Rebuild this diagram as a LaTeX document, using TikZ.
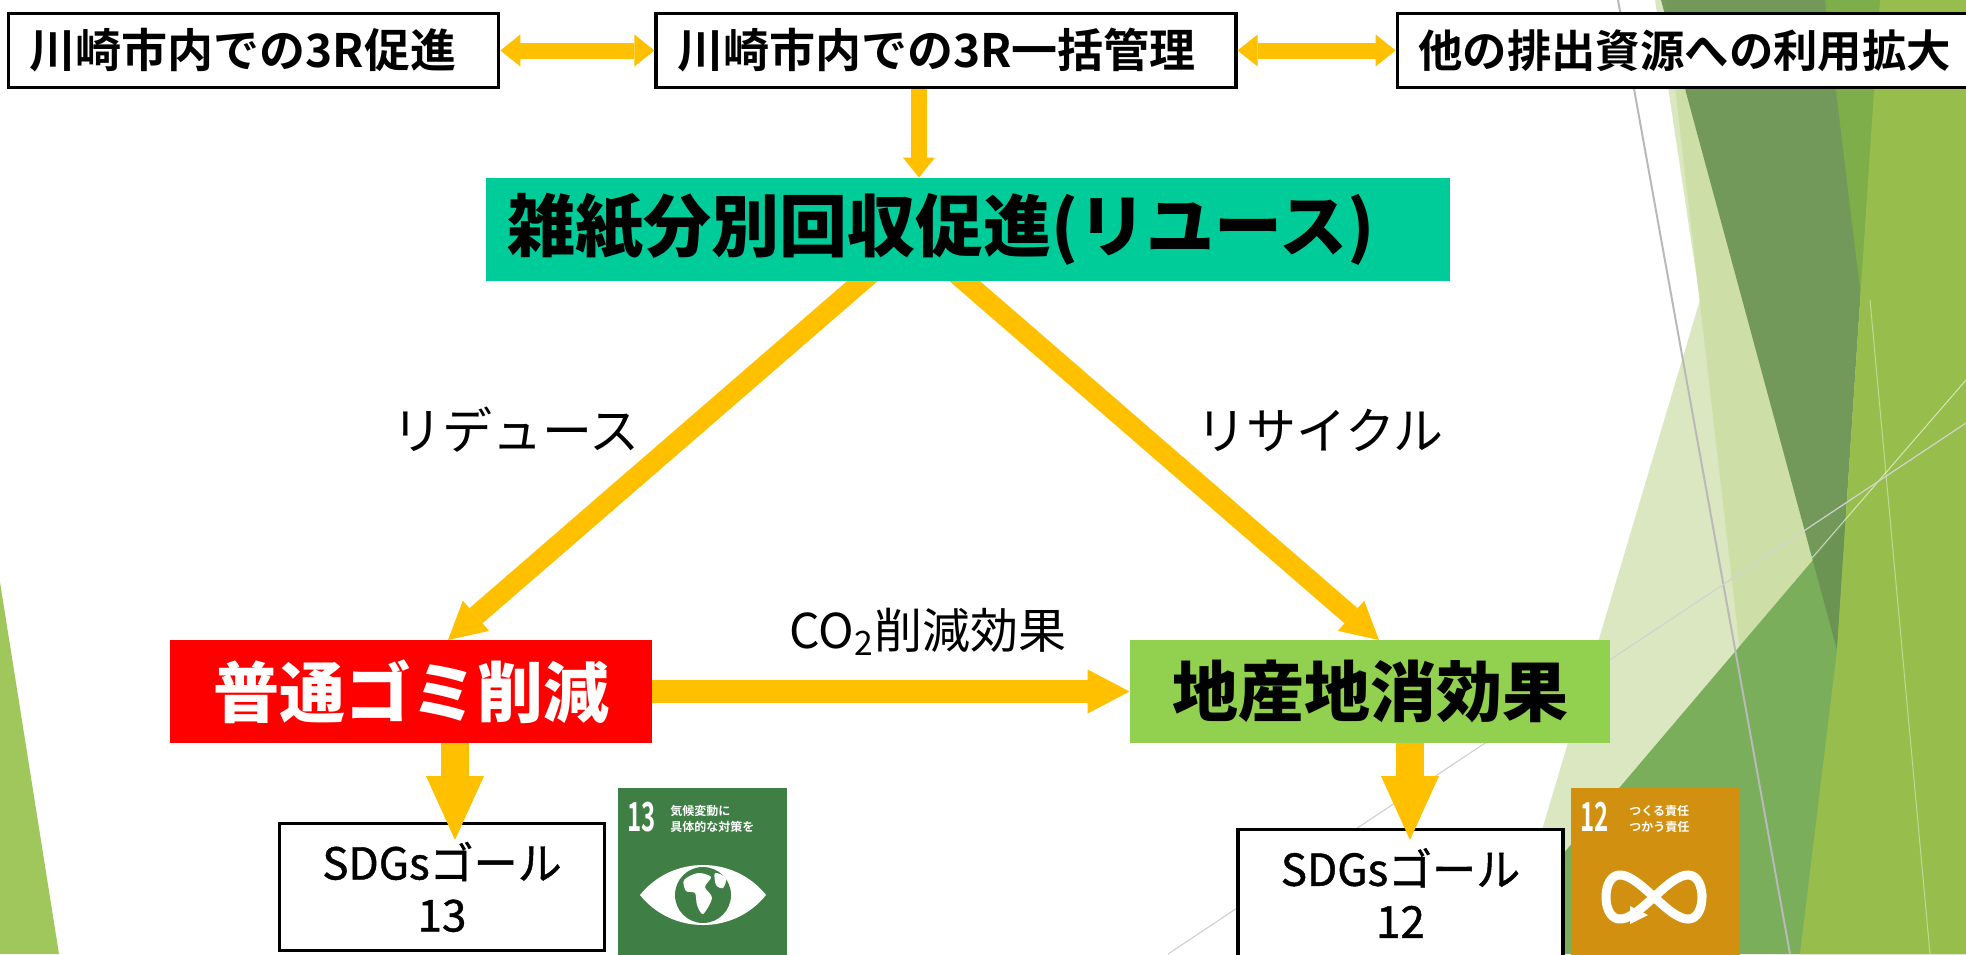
\documentclass[tikz,border=0pt]{standalone}
\usepackage{fontspec}
\usetikzlibrary{arrows.meta,positioning}

\newfontfamily\jp{Noto Sans CJK JP}
\newfontfamily\jpmed{Noto Sans CJK JP}[FakeBold=1]
\IfFontExistsTF{Noto Sans CJK JP Bold}
  {\newfontfamily\jpbold{Noto Sans CJK JP Bold}}
  {\newfontfamily\jpbold{Noto Sans CJK JP}[FakeBold=2]}
\IfFontExistsTF{Noto Sans CJK JP Black}
  {\newfontfamily\jpheavy{Noto Sans CJK JP Black}}
  {\IfFontExistsTF{Noto Sans CJK JP Bold}
    {\newfontfamily\jpheavy{Noto Sans CJK JP Bold}[FakeBold=2.5]}
    {\newfontfamily\jpheavy{Noto Sans CJK JP}[FakeBold=4]}}

\definecolor{arrowgold}{HTML}{FFC000}
\definecolor{sortteal}{HTML}{00CC99}
\definecolor{cutred}{HTML}{FF0000}
\definecolor{leafgreen}{HTML}{92D050}
\definecolor{sdgclimate}{HTML}{3F7E44}
\definecolor{sdgconsume}{HTML}{D1900F}
% slide background facets
\definecolor{facetleft}{HTML}{A0C75B}
\definecolor{facetpale}{HTML}{DAE7C0}
\definecolor{facetlight}{HTML}{CDDEA6}
\definecolor{facetdark}{HTML}{6A9252}
\definecolor{facettop}{HTML}{7EAE4A}
\definecolor{facetmid}{HTML}{7AAE5A}
\definecolor{facetolive}{HTML}{97BE4C}

\pgfdeclarelayer{back}
\pgfdeclarelayer{under}
\pgfsetlayers{back,under,main}

\begin{document}
\begin{tikzpicture}[
  x=0.5pt, y=-0.5pt,
  topbox/.style={draw, line width=1.6pt, fill=white, align=left, inner xsep=10.5pt, inner ysep=0pt, minimum height=37pt, font=\jpbold\fontsize{23}{26}\selectfont},
  tagbox/.style={minimum height=51.5pt, inner sep=0pt, font=\jpheavy\fontsize{33}{36}\selectfont},
  goalbox/.style={draw, line width=1.6pt, fill=white, align=center, minimum width=162.5pt, minimum height=63.5pt, font=\jpmed\fontsize{22}{26}\selectfont},
  lbl/.style={inner sep=0pt, font=\jp\fontsize{25}{27}\selectfont},
  icon/.style={minimum size=84.5pt, inner sep=0pt},
  icontext/.style={inner sep=0pt, anchor=north west, align=left, text=white},
  link/.style={draw=arrowgold, line width=8pt, -{Triangle[width=16pt,length=10pt,line width=0pt]}},
  duo/.style={draw=arrowgold, line width=8pt, {Triangle[width=16pt,length=10pt,line width=0pt]}-{Triangle[width=16pt,length=10pt,line width=0pt]}},
  diag/.style={draw=arrowgold, line width=10pt, -{Triangle[width=20pt,length=18.5pt,line width=0pt]}},
  flow/.style={draw=arrowgold, line width=11.5pt, -{Triangle[width=22pt,length=21pt,line width=0pt]}},
  drop/.style={draw=arrowgold, line width=14pt, -{Triangle[width=29pt,length=32pt,line width=0pt]}},
]
  \useasboundingbox (0,0) rectangle (1966,954);
  \clip (0,0) rectangle (1966,954);

  % background
  \begin{pgfonlayer}{back}
    \fill[white] (0,0) rectangle (1966,954);
    \fill[facetleft] (0,582) -- (59,954) -- (0,954) -- cycle;
    \fill[facetpale] (1655,0) -- (1700,300) -- (1505,954) -- (1966,954) -- (1966,0) -- cycle;
    \fill[facetlight] (1665,0) -- (1775,954) -- (1966,954) -- (1966,0) -- cycle;
    \fill[facetmid] (1966,380) -- (1478,954) -- (1966,954) -- cycle;
    \fill[facetdark, opacity=.9] (1661,0) -- (1880,0) -- (1837,650) -- cycle;
    \fill[facettop] (1825,0) -- (1905,0) -- (1865,330) -- cycle;
    \fill[facetolive] (1880,0) -- (1966,0) -- (1966,954) -- (1800,954) -- (1837,650) -- cycle;
    \draw[white, opacity=.6, line width=.5pt] (1966,380) -- (1812,558);
    \draw[white, opacity=.4, line width=.5pt] (1870,300) -- (1930,954);
    \draw[gray!55, line width=1pt] (1618,0) -- (1790,954);
    \draw[gray!35, line width=.6pt] (1168,954) -- (1966,423);
  \end{pgfonlayer}

  % top row
  \node[topbox, text width=269pt] (mgmt) at (946,50.5) {川崎市内での3R一括管理};
  \node[topbox, text width=224pt, left=77pt of mgmt] (prom) {川崎市内での3R促進};
  \node[topbox, text width=276pt, right=79pt of mgmt, font=\jpbold\fontsize{22.2}{26}\selectfont] (expand) {他の排出資源への利用拡大};

  % main boxes
  \node[tagbox, fill=sortteal, text width=460pt, inner xsep=11pt, align=left, font=\jpheavy\fontsize{34}{36}\selectfont] (sorting) at (967.5,229.5) {雑紙分別回収促進(リユース)};
  \node[tagbox, fill=cutred, text=white, minimum width=241pt] (reduce) at (411,691.5) {普通ゴミ削減};
  \node[tagbox, fill=leafgreen, minimum width=240pt] (local) at (1370,691.5) {地産地消効果};

  \node[lbl] (lreduce) at (516,430) {リデュース};
  \node[lbl] (lrecycle) at (1320,430) {リサイクル};
  \node[lbl, font=\jp\fontsize{24}{26}\selectfont] (lco) at (928,632) {CO\textsubscript{2}削減効果};

  % goals
  \node[goalbox] (goal13) at (442,887) {SDGsゴール\\13};
  \node[goalbox] (goal12) at (1400.5,893) {SDGsゴール\\12};

  % goal 13 icon
  \node[icon, fill=sdgclimate] (icon13) at (702.5,872.5) {};
  \node[icontext, font=\jpbold\fontsize{20}{20}\selectfont] (num13) at (627,802) {\scalebox{.6}[1]{13}};
  \node[icontext, font=\jpbold\fontsize{6}{8}\selectfont] (cap13) at (670,805) {気候変動に\\具体的な対策を};
  \fill[white] (640,895) .. controls (672,855) and (734,855) .. (766,895) .. controls (734,935) and (672,935) .. (640,895) -- cycle;
  \fill[sdgclimate] (703,895) circle (14pt);
  \fill[white] plot[smooth cycle] coordinates {(684,880) (698,873) (711,877) (705,887) (712,898) (703,914) (697,905) (695,893) (686,891)};
  \fill[white] plot[smooth cycle] coordinates {(715,873) (726,878) (723,888) (716,885)};

  % goal 12 icon
  \node[icon, fill=sdgconsume] (icon12) at (1655.5,872.5) {};
  \node[icontext, font=\jpbold\fontsize{20}{20}\selectfont] (num12) at (1580,802) {\scalebox{.6}[1]{12}};
  \node[icontext, font=\jpbold\fontsize{6}{8}\selectfont] (cap12) at (1629,805) {つくる責任\\つかう責任};
  \draw[white, line width=4.5pt] plot[domain=0:360, samples=90, smooth cycle] ({1654+48*cos(\x)}, {897+22*sin(2*\x)});
  \fill[white] (1630,906) -- (1648,915) -- (1630,924) -- cycle;

  % connectors
  \draw[duo] (prom) -- (mgmt);
  \draw[duo] (mgmt) -- (expand);
  \draw[link] ([xshift=-13.5pt]mgmt.south) -- ([xshift=-13.5pt]mgmt.south |- sorting.north);

  \coordinate (reduceTip) at (448,640);
  \coordinate (localTip) at (1379,640);
  \begin{pgfonlayer}{under}
    \draw[diag, shorten <=-12pt] ([xshift=-52.75pt]sorting.south) -- (reduceTip);
    \draw[diag, shorten <=-12pt] ([xshift=-1.25pt]sorting.south) -- (localTip);
  \end{pgfonlayer}
  \draw[flow] (reduce) -- (local);

  \coordinate (drop13) at (455,840);
  \coordinate (drop12) at (1410,840);
  \draw[drop] (reduce.south -| drop13) -- (drop13);
  \draw[drop] (local.south -| drop12) -- (drop12);
\end{tikzpicture}
\end{document}
